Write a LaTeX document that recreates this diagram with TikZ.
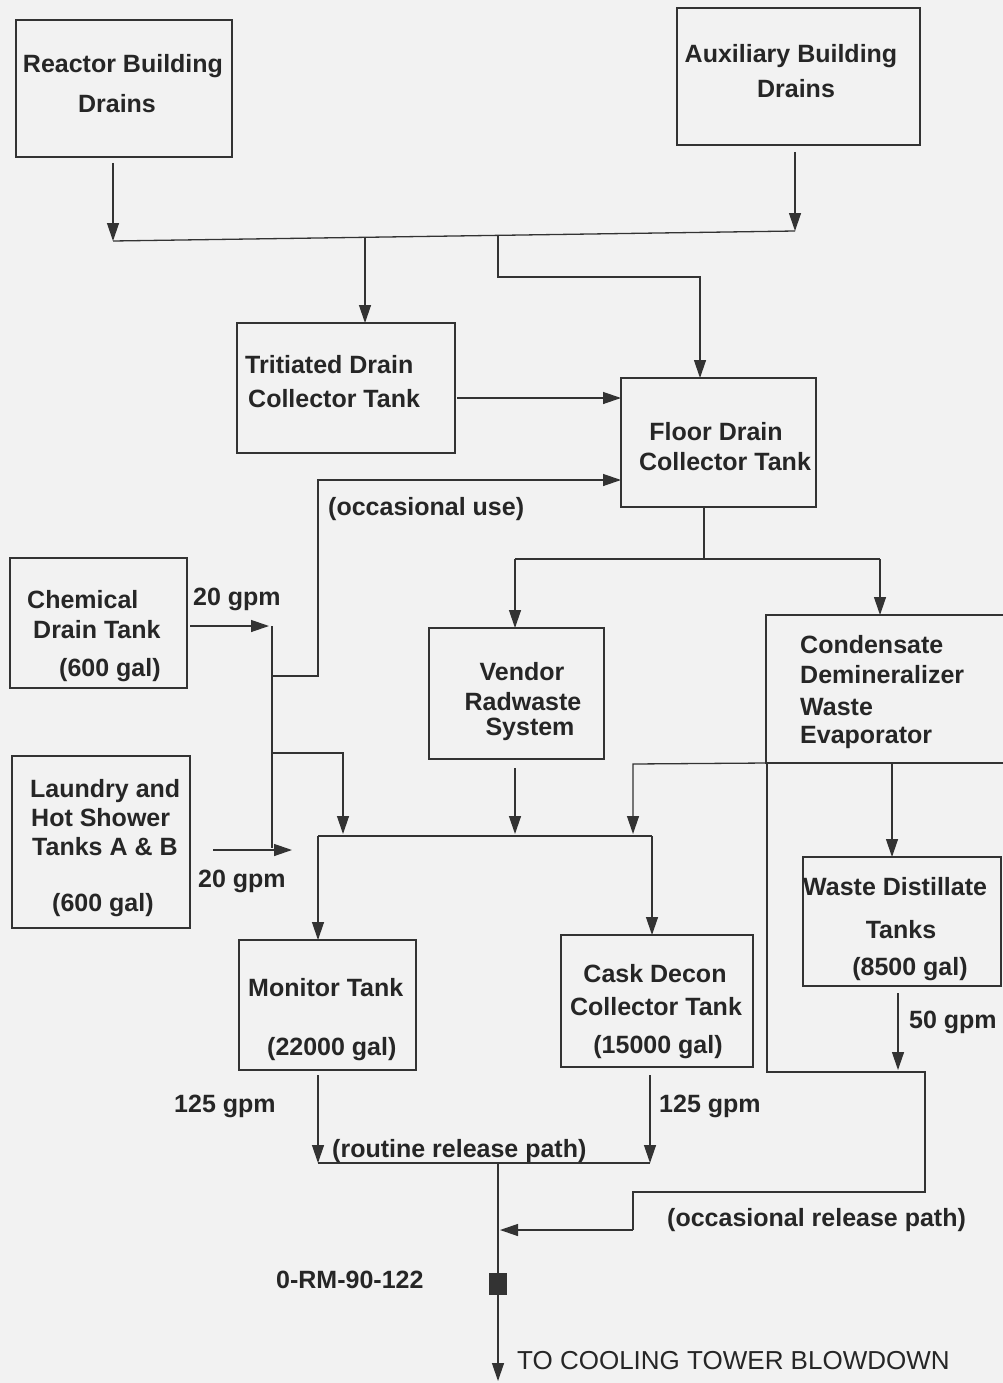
\documentclass[tikz,border=0pt]{standalone}
\usepackage{fontspec}
\setmainfont{Liberation Sans}
\usetikzlibrary{arrows.meta}
\definecolor{ink}{HTML}{333333}
\definecolor{txt}{HTML}{262626}
\definecolor{paper}{HTML}{F2F2F2}
\newcommand{\mybox}[5]{\node[tankbox, anchor=north west, minimum width={#4-#2}, minimum height={#5-#3}] (#1) at (#2,#3) {};}
\begin{document}
\begin{tikzpicture}[x=1pt,y=-1pt,
  tankbox/.style={draw=ink, line width=2.6pt, inner sep=0pt, outer sep=0pt},
  lbl/.style={text=txt, inner sep=0pt, font=\bfseries\fontsize{25}{30}\selectfont},
  plain/.style={text=txt, inner sep=0pt, font=\fontsize{26}{30}\selectfont},
  wire/.style={draw=ink, line width=1.3pt},
  flow/.style={draw=ink, line width=1.3pt, -{Triangle[length=18pt,width=12pt]}}]
\fill[paper] (0,0) rectangle (1003,1383);
\useasboundingbox (0,0) rectangle (1003,1383);

% boxes
\mybox{rbd}{16}{20}{232}{157}
\mybox{abd}{677}{8}{920}{145}
\mybox{tdc}{237}{323}{455}{453}
\mybox{fdc}{621}{378}{816}{507}
\mybox{cdt}{10}{558}{187}{688}
\mybox{lhs}{12}{756}{190}{928}
\mybox{vrs}{429}{628}{604}{759}
\mybox{cdw}{766}{615}{1015}{763}
\mybox{wdt}{803}{857}{1001}{986}
\mybox{mt}{239}{940}{416}{1070}
\mybox{cdc}{561}{935}{753}{1067}
\node[fill=ink, minimum width=18pt, minimum height=22pt, inner sep=0pt] (rm) at (498,1284) {};

% texts
\node[lbl, anchor=base] (t1) at (123,73) {Reactor Building};
\node[lbl, anchor=base] (t2) at (117,113) {Drains};
\node[lbl, anchor=base] (t3) at (791,63) {Auxiliary Building};
\node[lbl, anchor=base] (t4) at (796,98) {Drains};
\node[lbl, anchor=base west] (t5) at (245,373) {Tritiated Drain};
\node[lbl, anchor=base west] (t6) at (248,407) {Collector Tank};
\node[lbl, anchor=base] (t7) at (716,440) {Floor Drain};
\node[lbl, anchor=base] (t8) at (725,470) {Collector Tank};
\node[lbl, anchor=base west] (t9) at (328,515) {(occasional use)};
\node[lbl, anchor=base west] (t10) at (27,608) {Chemical};
\node[lbl, anchor=base west] (t11) at (33,638) {Drain Tank};
\node[lbl, anchor=base west] (t12) at (59,676) {(600 gal)};
\node[lbl, anchor=base west] (t13) at (193,605) {20 gpm};
\node[lbl, anchor=base west] (t14) at (30,797) {Laundry and};
\node[lbl, anchor=base west] (t15) at (31,826) {Hot Shower};
\node[lbl, anchor=base west] (t16) at (32,855) {Tanks A \& B};
\node[lbl, anchor=base west] (t17) at (52,911) {(600 gal)};
\node[lbl, anchor=base west] (t18) at (198,887) {20 gpm};
\node[lbl, anchor=base] (t19) at (522,680) {Vendor};
\node[lbl, anchor=base] (t20) at (523,710) {Radwaste};
\node[lbl, anchor=base] (t21) at (530,735) {System};
\node[lbl, anchor=base west] (t22) at (800,653) {Condensate};
\node[lbl, anchor=base west] (t23) at (800,683) {Demineralizer};
\node[lbl, anchor=base west] (t24) at (800,715) {Waste};
\node[lbl, anchor=base west] (t25) at (800,743) {Evaporator};
\node[lbl, anchor=base west] (t26) at (803,895) {Waste Distillate};
\node[lbl, anchor=base] (t27) at (901,938) {Tanks};
\node[lbl, anchor=base] (t28) at (910,975) {(8500 gal)};
\node[lbl, anchor=base west] (t29) at (909,1028) {50 gpm};
\node[lbl, anchor=base west] (t30) at (248,996) {Monitor Tank};
\node[lbl, anchor=base west] (t31) at (267,1055) {(22000 gal)};
\node[lbl, anchor=base] (t32) at (655,982) {Cask Decon};
\node[lbl, anchor=base] (t33) at (656,1015) {Collector Tank};
\node[lbl, anchor=base] (t34) at (658,1053) {(15000 gal)};
\node[lbl, anchor=base west] (t35) at (174,1112) {125 gpm};
\node[lbl, anchor=base west] (t36) at (659,1112) {125 gpm};
\node[lbl, anchor=base west] (t37) at (332,1157) {(routine release path)};
\node[lbl, anchor=base west] (t38) at (667,1226) {(occasional release path)};
\node[lbl, anchor=base west] (t39) at (276,1288) {0-RM-90-122};
\node[plain, anchor=base west] (t40) at (517,1369) {TO COOLING TOWER BLOWDOWN};

% junction coordinates
\coordinate (hL) at (113,241);
\coordinate (hR) at (795,231);
\coordinate (hA) at (365,238);
\coordinate (hB) at (498,236);
\coordinate (fJ) at (704,559);
\coordinate (fL) at (515,559);
\coordinate (fR) at (880,559);
\coordinate (cA) at (272,626);
\coordinate (cB) at (272,848);
\coordinate (cC) at (272,676);
\coordinate (cD) at (272,753);
\coordinate (mL) at (318,836);
\coordinate (mR) at (652,836);
\coordinate (eL) at (767,764);
\coordinate (rL) at (318,1163);
\coordinate (rR) at (650,1163);
\coordinate (rM) at (498,1163);
\coordinate (oJ) at (925,1072);
\coordinate (endP) at (498,1381);

% top collector
\draw[flow] (rbd.south -| hL) ++(0,6) -- (hL);
\draw[flow] (abd.south -| hR) ++(0,7) -- (hR);
\draw[wire] (hL) -- (hR);
\draw[flow] (hA) -- (tdc.north -| hA);
\draw[flow] (hB) -- (498,277) -- (700,277) -- (fdc.north -| 700,0);
\draw[flow] (tdc.east |- 0,398) ++(2,0) -- (fdc.west |- 0,398);

% floor drain outlet
\draw[wire] (fdc.south -| fJ) -- (fJ);
\draw[wire] (fL) -- (fR);
\draw[flow] (fL) -- (vrs.north -| fL);
\draw[flow] (fR) -- (cdw.north -| fR);

% chemical / laundry
\draw[flow] (cdt.east |- cA) ++(3,0) -- ++(79,0);
\draw[wire] (cA) -- (cB);
\draw[flow] (cC) -- (318,676) -- (318,480) -- (fdc.west |- 0,480);
\draw[flow] (cD) -- (343,753) -- (343,834);
\draw[flow] (213,850) -- (292,850);

% vendor and evaporator to monitor / cask
\draw[flow] (vrs.south -| 515,0) ++(0,9) -- (515,834);
\draw[wire] (mL) -- (mR);
\draw[flow] (mL) -- (mt.north -| mL);
\draw[flow] (mR) -- (cdc.north -| mR);
\draw[flow] (cdw.south -| eL) -- (633,764) -- (633,834);
\draw[flow] (cdw.south -| 892,0) -- (wdt.north -| 892,0);

% releases
\draw[flow] (mt.south -| rL) ++(0,5) -- (rL);
\draw[flow] (cdc.south -| rR) ++(0,8) -- (rR);
\draw[wire] (rL) -- (rR);
\draw[flow] (rM) -- (endP);
\draw[wire] (eL) -- (767,1072) -- (oJ) -- (925,1192) -- (633,1192) -- (633,1230);
\draw[flow] (633,1230) -- (500,1230);
\draw[flow] (wdt.south -| 898,0) ++(0,7) -- (898,1070);
\end{tikzpicture}
\end{document}
